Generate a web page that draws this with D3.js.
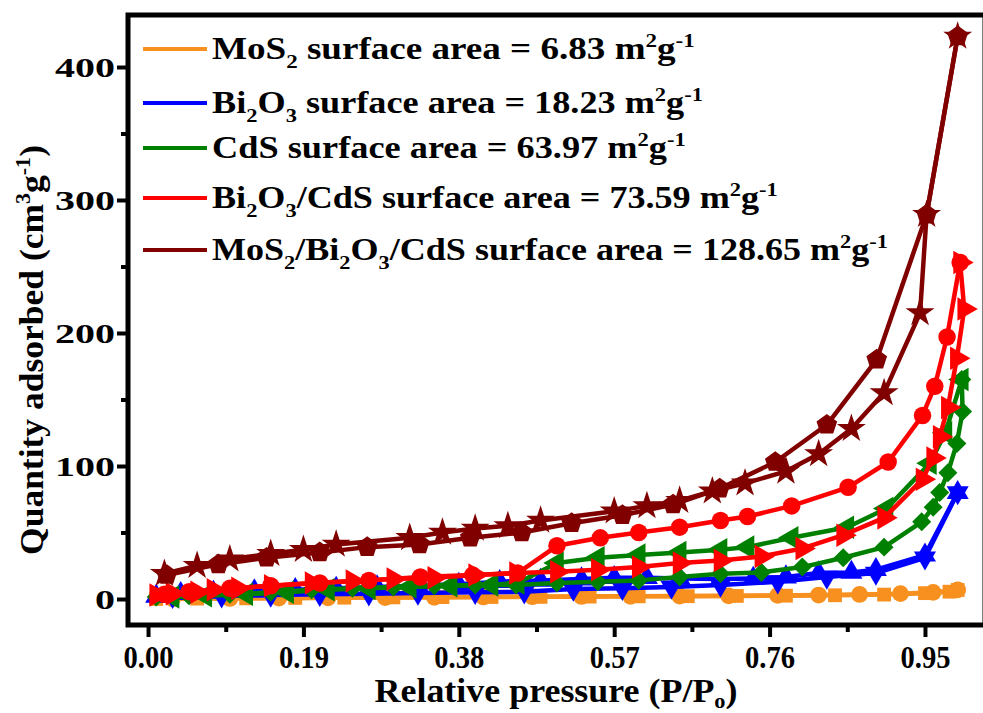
<!DOCTYPE html>
<meta charset="utf-8">
<style>
    body { margin: 0; background: #fff; }
    text { font-family: "Liberation Serif", Tinos, "Times New Roman", Times, serif; font-weight: bold; fill: #000; }
    .line { fill: none; stroke-width: 4.5px; stroke-linejoin: round; }
    .axis path { display: none; }
    .axis line { stroke: #000; stroke-width: 4px; }
</style>
<body>
<script src="https://cdn.jsdelivr.net/npm/d3@7"></script>
<script>
    // ---- data ----
    var xTicks = [0.00, 0.19, 0.38, 0.57, 0.76, 0.95];
    var xMinor = [0.095, 0.285, 0.475, 0.665, 0.855];
    var yTicks = [0, 100, 200, 300, 400];
    var yMinor = [50, 150, 250, 350];

    // MoS2 (orange)
    var mos2AdsX = [0.01, 0.06, 0.12, 0.18, 0.24, 0.30, 0.36, 0.42, 0.48, 0.54, 0.60, 0.66, 0.72, 0.78, 0.84, 0.90, 0.95, 0.98, 0.99];
    var mos2AdsY = [0, 0.3, 0.5, 0.8, 1, 1.2, 1.4, 1.5, 1.6, 1.8, 2, 2.1, 2.3, 2.5, 2.8, 3.3, 4.4, 5.5, 6.8];
    var mos2DesX = [0.99, 0.96, 0.92, 0.87, 0.82, 0.77, 0.71, 0.65, 0.59, 0.53, 0.47, 0.41, 0.35, 0.29, 0.22, 0.16, 0.10, 0.03];
    var mos2DesY = [6.8, 5.0, 4.0, 3.4, 3.0, 2.7, 2.4, 2.2, 2.0, 1.9, 1.7, 1.5, 1.3, 1.1, 0.9, 0.6, 0.4, 0.1];

    // Bi2O3 (blue)
    var bioAdsX = [0.01, 0.04, 0.08, 0.13, 0.18, 0.23, 0.28, 0.33, 0.38, 0.43, 0.48, 0.53, 0.57, 0.61, 0.65, 0.70, 0.74, 0.78, 0.82, 0.86, 0.89, 0.95, 0.99];
    var bioAdsY = [2, 4, 5, 6, 7, 8, 9, 10, 11, 13, 14, 15, 16, 16, 15.5, 15, 15.5, 16.5, 19.5, 20, 22, 33, 80];
    var bioDesX = [0.99, 0.95, 0.89, 0.83, 0.77, 0.70, 0.64, 0.58, 0.52, 0.46, 0.40, 0.33, 0.27, 0.21, 0.15, 0.09, 0.03];
    var bioDesY = [80, 31, 19.5, 16.5, 13, 10.5, 9, 8, 7.5, 5.5, 5, 4.5, 4, 3.5, 3, 2.5, 2];

    // CdS (green)
    var cdsAdsX = [0.01, 0.05, 0.10, 0.15, 0.20, 0.25, 0.30, 0.35, 0.40, 0.45, 0.50, 0.55, 0.60, 0.65, 0.70, 0.75, 0.80, 0.85, 0.90, 0.946, 0.96, 0.968, 0.978, 0.989, 0.996, 0.995];
    var cdsAdsY = [1.5, 2.5, 3.5, 5, 7, 8, 9, 10, 10.5, 10.5, 12, 13, 14, 16.5, 19, 20, 24, 31, 39, 58, 69, 80, 95, 117, 141, 165];
    var cdsDesX = [0.995, 0.975, 0.956, 0.903, 0.855, 0.787, 0.733, 0.70, 0.65, 0.60, 0.55, 0.50, 0.452, 0.42, 0.37, 0.32, 0.27, 0.22, 0.17, 0.12, 0.07, 0.03];
    var cdsDesY = [165, 125, 102, 68, 54, 46, 39, 37, 35, 33, 31, 27, 12, 10.5, 10, 9, 8, 7, 5, 3.5, 2.5, 1.5];

    // Bi2O3/CdS (red)
    var bcAdsX = [0.01, 0.03, 0.06, 0.08, 0.11, 0.15, 0.20, 0.25, 0.30, 0.35, 0.40, 0.45, 0.50, 0.55, 0.60, 0.65, 0.70, 0.75, 0.80, 0.85, 0.90, 0.947, 0.96, 0.968, 0.978, 0.989, 0.998, 0.993];
    var bcAdsY = [3, 4, 5, 7, 8, 10, 12, 13.5, 15, 16, 18, 19.5, 20.5, 22, 24, 27, 29, 32, 38, 48, 61, 90, 106, 122, 144, 181, 218, 253];
    var bcDesX = [0.993, 0.977, 0.962, 0.947, 0.905, 0.856, 0.787, 0.733, 0.70, 0.65, 0.60, 0.553, 0.50, 0.452, 0.397, 0.333, 0.27, 0.21, 0.15, 0.10, 0.05, 0.02];
    var bcDesY = [253, 197, 160, 138, 103, 84, 70, 62, 59, 54, 50, 46, 40, 19.5, 18, 16.5, 14, 12, 10, 8, 5.5, 3.5];

    // MoS2/Bi2O3/CdS (dark red)
    var mbcAdsX = [0.02, 0.06, 0.10, 0.15, 0.19, 0.23, 0.32, 0.36, 0.40, 0.44, 0.48, 0.57, 0.61, 0.65, 0.69, 0.73, 0.78, 0.82, 0.86, 0.90, 0.944, 0.952, 0.99];
    var mbcAdsY = [19, 25, 30, 34, 37, 41, 46, 50, 53, 55, 59, 66, 70, 74, 81, 87, 96, 109, 128, 155, 215, 289, 423];
    var mbcDesX = [0.99, 0.952, 0.891, 0.83, 0.767, 0.699, 0.642, 0.58, 0.518, 0.457, 0.394, 0.332, 0.268, 0.21, 0.145, 0.086, 0.023];
    var mbcDesY = [423, 289, 180, 131, 103, 83, 71, 63, 57, 50, 46, 41, 39, 35, 31, 26, 18];

    var legendLabels = [
        [["MoS"], ["2", "sub"], [" surface area = 6.83 m"], ["2", "sup"], ["g"], ["-1", "sup"]],
        [["Bi"], ["2", "sub"], ["O"], ["3", "sub"], [" surface area = 18.23 m"], ["2", "sup"], ["g"], ["-1", "sup"]],
        [["CdS surface area = 63.97 m"], ["2", "sup"], ["g"], ["-1", "sup"]],
        [["Bi"], ["2", "sub"], ["O"], ["3", "sub"], ["/CdS surface area = 73.59 m"], ["2", "sup"], ["g"], ["-1", "sup"]],
        [["MoS"], ["2", "sub"], ["/Bi"], ["2", "sub"], ["O"], ["3", "sub"], ["/CdS surface area = 128.65 m"], ["2", "sup"], ["g"], ["-1", "sup"]]
    ];
    var legendWidths = [483, 491, 474, 566, 676];
    var legendBaselines = [59, 113, 158, 208, 260];

    // ---- custom marker shapes ----
    var symbolPentagon = {
        draw: function(ctx, size) {
            var r = Math.sqrt(size / 2.378);
            for (var i = 0; i < 5; i++) {
                var a = -Math.PI / 2 + i * 2 * Math.PI / 5;
                if (i === 0) ctx.moveTo(r * Math.cos(a), r * Math.sin(a));
                else ctx.lineTo(r * Math.cos(a), r * Math.sin(a));
            }
            ctx.closePath();
        }
    };

    function zip(xs, ys) {
        return xs.map(function(x, i) { return {x: x, y: ys[i]}; });
    }

    var series = [
        {color: "#f7901e", branches: [
            {pts: zip(mos2AdsX, mos2AdsY), sym: d3.symbolSquare, size: 190, rot: 0},
            {pts: zip(mos2DesX, mos2DesY), sym: d3.symbolCircle, size: 220, rot: 0}]},
        {color: "#0000ff", branches: [
            {pts: zip(bioAdsX, bioAdsY), sym: d3.symbolTriangle, size: 210, rot: 0},
            {pts: zip(bioDesX, bioDesY), sym: d3.symbolTriangle, size: 210, rot: 180}]},
        {color: "#008000", branches: [
            {pts: zip(cdsAdsX, cdsAdsY), sym: d3.symbolSquare, size: 180, rot: 45},
            {pts: zip(cdsDesX, cdsDesY), sym: d3.symbolTriangle, size: 240, rot: -90}]},
        {color: "#ff0000", branches: [
            {pts: zip(bcAdsX, bcAdsY), sym: d3.symbolTriangle, size: 240, rot: 90},
            {pts: zip(bcDesX, bcDesY), sym: d3.symbolCircle, size: 240, rot: 0}]},
        {color: "#800000", branches: [
            {pts: zip(mbcAdsX, mbcAdsY), sym: d3.symbolStar, size: 260, rot: 0},
            {pts: zip(mbcDesX, mbcDesY), sym: symbolPentagon, size: 280, rot: 0}]}
    ];

    // ---- layout ----
    var width = 983, height = 713;
    var svg = d3.select("body").append("svg")
        .attr("width", width)
        .attr("height", height);
    var margin = {top: 15, right: -2, bottom: 88, left: 128};
    var w = width - margin.left - margin.right,
        h = height - margin.top - margin.bottom;

    var x = d3.scaleLinear().domain([-0.0245, 1.0234]).range([0, w]),
        y = d3.scaleLinear().domain([-19.55, 439.1]).range([h, 0]);

    var g = svg.append("g").attr("transform", "translate(" + margin.left + "," + margin.top + ")");

    var line = d3.line()
        .x(function(d) { return x(d.x); })
        .y(function(d) { return y(d.y); });

    series.forEach(function(s) {
        var sg = g.append("g");
        s.branches.forEach(function(b) {
            sg.append("path")
                .attr("class", "line")
                .attr("d", line(b.pts))
                .style("stroke", s.color);
        });
        s.branches.forEach(function(b) {
            sg.selectAll(null)
                .data(b.pts)
                .enter().append("path")
                .attr("transform", function(d) {
                    return "translate(" + x(d.x) + "," + y(d.y) + ") rotate(" + b.rot + ")";
                })
                .attr("d", d3.symbol().type(b.sym).size(b.size))
                .style("fill", s.color);
        });
    });

    // axes
    var yAxis = g.append("g")
        .attr("class", "axis")
        .call(d3.axisLeft(y).tickValues(yTicks).tickSize(11).tickPadding(2));
    yAxis.selectAll("text")
        .style("font-size", "27px")
        .attr("dy", "0.36em")
        .attr("textLength", function(d) { return String(d).length * 20; })
        .attr("lengthAdjust", "spacingAndGlyphs");
    g.append("g")
        .attr("class", "axis")
        .call(d3.axisLeft(y).tickValues(yMinor).tickSize(7).tickFormat(""));

    var xAxis = g.append("g")
        .attr("class", "axis")
        .attr("transform", "translate(0," + h + ")")
        .call(d3.axisBottom(x).tickValues(xTicks).tickSize(12).tickPadding(9).tickFormat(d3.format(".2f")));
    xAxis.selectAll("text")
        .style("font-size", "31px")
        .attr("textLength", 50)
        .attr("lengthAdjust", "spacingAndGlyphs");
    g.append("g")
        .attr("class", "axis")
        .attr("transform", "translate(0," + h + ")")
        .call(d3.axisBottom(x).tickValues(xMinor).tickSize(7).tickFormat(""));

    // frame
    g.append("rect")
        .attr("width", w)
        .attr("height", h)
        .style("fill", "none")
        .style("stroke", "#000")
        .style("stroke-width", 5);

    // rich text helper (sub/superscripts)
    function richText(sel, pieces, size, subShift) {
        var shift = 0;
        pieces.forEach(function(p) {
            var target = p[1] === "sub" ? size * (subShift || 0.28) : p[1] === "sup" ? -size * 0.38 : 0;
            sel.append("tspan")
                .attr("dy", target - shift)
                .style("font-size", p[1] ? (size * 0.62) + "px" : size + "px")
                .text(p[0]);
            shift = target;
        });
    }

    function fitWidth(textSel, target) {
        var bw = textSel.node().getBBox().width;
        textSel.attr("transform", "scale(" + (target / bw) + ",1)");
    }

    // legend
    legendLabels.forEach(function(lab, i) {
        var base = legendBaselines[i];
        svg.append("line")
            .attr("x1", 143).attr("x2", 207)
            .attr("y1", base - 10).attr("y2", base - 10)
            .style("stroke", series[i].color)
            .style("stroke-width", 4);
        var lg = svg.append("g").attr("transform", "translate(212," + base + ")");
        var t = lg.append("text");
        richText(t, lab, 32);
        fitWidth(t, legendWidths[i]);
    });

    // axis titles
    var xt = svg.append("g").attr("transform", "translate(556,702)");
    var xtt = xt.append("text").style("text-anchor", "middle");
    richText(xtt, [["Relative pressure (P/P"], ["o", "sub"], [")"]], 33, 0.18);
    fitWidth(xtt, 363);

    var yt = svg.append("g").attr("transform", "translate(43,350) rotate(-90)");
    var ytt = yt.append("text").style("text-anchor", "middle");
    richText(ytt, [["Quantity adsorbed (cm"], ["3", "sup"], ["g"], ["-1", "sup"], [")"]], 34);
    fitWidth(ytt, 410);
</script>
</body>
